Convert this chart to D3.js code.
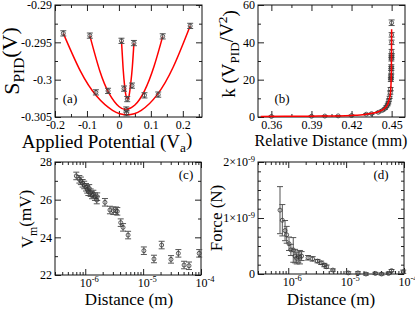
<!DOCTYPE html>
<html>
<head>
<meta charset="utf-8">
<script src="https://cdn.jsdelivr.net/npm/d3@7"></script>
<style>
body { margin: 0; background: #fff; }
svg { display: block; font-family: "Liberation Serif", "Times New Roman", serif; }
</style>
</head>
<body>
<svg id="fig" width="415" height="310"></svg>
<script>
// ---- panel (a): S_PID vs applied potential, three parabolas
var aOuterX = [-0.174, -0.072, 0.024, 0.123, 0.223];
var aOuterY = [-0.2938, -0.3017, -0.3045, -0.3020, -0.2928];
var aMidX = [-0.091, -0.034, 0.023, 0.080, 0.137];
var aMidY = [-0.2941, -0.3015, -0.3040, -0.3021, -0.2942];
var aNarrowX = [0.008, 0.016, 0.026, 0.041, 0.047];
var aNarrowY = [-0.2948, -0.3012, -0.3026, -0.3008, -0.2951];
var aErr = [0.00035, 0.00035, 0.00035, 0.00035, 0.00035];
// fitted curves
var aFitOuterX = [-0.174, -0.12, -0.07, -0.02, 0.025, 0.07, 0.12, 0.17, 0.223];
var aFitOuterY = [-0.2938, -0.2989, -0.3022, -0.3041, -0.3047, -0.3041, -0.3020, -0.2983, -0.2928];
var aFitMidX = [-0.091, -0.06, -0.03, 0.0, 0.023, 0.05, 0.08, 0.11, 0.137];
var aFitMidY = [-0.2941, -0.2988, -0.3019, -0.3036, -0.3040, -0.3034, -0.3015, -0.2982, -0.2942];
var aFitNarrowX = [0.008, 0.013, 0.018, 0.022, 0.027, 0.032, 0.037, 0.042, 0.047];
var aFitNarrowY = [-0.2948, -0.2984, -0.3009, -0.3021, -0.3026, -0.3021, -0.3005, -0.2983, -0.2951];

// ---- panel (b): k vs relative distance
var bX = [0.36, 0.39, 0.40, 0.41, 0.42, 0.431, 0.435, 0.44, 0.443, 0.445, 0.446, 0.447, 0.4475, 0.448, 0.4485,
          0.449, 0.4492, 0.4494, 0.4495, 0.4496, 0.4497, 0.4497, 0.4498, 0.4498, 0.4499, 0.4499, 0.45, 0.45, 0.45, 0.45];
var bY = [0.3, 0.4, 0.5, 0.6, 0.8, 1.5, 1.8, 2.5, 3.5, 4.5, 5.5, 6.5, 7.5, 9, 10.5,
          13, 15, 20, 21, 22, 24, 26, 27, 31, 32, 33, 35, 40, 44, 50.5];
var bErr = [0.2, 0.2, 0.2, 0.2, 0.2, 0.3, 0.3, 0.3, 0.4, 0.4, 0.5, 0.5, 0.5, 0.6, 0.6,
            0.8, 0.8, 1, 1, 1, 1, 1, 1, 1, 1, 1, 1.2, 1.2, 1.2, 1.5];
var bFitX = [0.352, 0.37, 0.39, 0.41, 0.42, 0.43, 0.44, 0.445, 0.447, 0.448, 0.449, 0.4495, 0.4498, 0.45];
var bFitY = [0.3, 0.35, 0.45, 0.6, 0.85, 1.4, 2.8, 4.8, 6.8, 9, 12, 17, 25, 47];

// ---- panel (c): V_m vs distance
var cX = [7.0e-7, 7.9e-7, 8.4e-7, 9.0e-7, 9.6e-7, 1.03e-6, 1.08e-6, 1.13e-6, 1.17e-6, 1.24e-6, 1.31e-6, 1.38e-6,
          1.47e-6, 1.58e-6, 1.61e-6, 2.19e-6, 2.67e-6, 3.05e-6, 3.40e-6, 3.58e-6, 4.1e-6, 4.5e-6, 5.5e-6,
          1.03e-5, 1.54e-5, 2.09e-5, 3.03e-5, 4.06e-5, 5.1e-5, 6.2e-5, 9.3e-5];
var cY = [27.26, 27.08, 27.0, 26.87, 26.78, 26.66, 26.55, 26.42, 26.6, 26.37, 26.25, 26.3,
          26.16, 25.98, 26.16, 25.86, 25.45, 25.41, 25.41, 25.38, 24.78, 24.53, 24.12,
          23.29, 22.85, 23.59, 22.83, 23.15, 22.53, 22.49, 23.15];
var cErr = [0.2, 0.2, 0.2, 0.2, 0.2, 0.2, 0.2, 0.2, 0.2, 0.2, 0.2, 0.2,
            0.2, 0.2, 0.2, 0.2, 0.2, 0.2, 0.2, 0.2, 0.2, 0.2, 0.2,
            0.2, 0.2, 0.2, 0.2, 0.2, 0.2, 0.2, 0.2];

// ---- panel (d): force vs distance
var dX = [7.2e-7, 7.9e-7, 8.8e-7, 9.4e-7, 1.03e-6, 1.11e-6, 1.22e-6, 1.31e-6, 1.4e-6, 1.49e-6, 1.59e-6, 1.7e-6,
          2.2e-6, 2.64e-6, 3.2e-6, 3.7e-6, 4.2e-6, 4.6e-6, 5.9e-6,
          1.09e-5, 1.6e-5, 2.2e-5, 3.2e-5, 4.1e-5, 5.4e-5, 6.1e-5, 9.7e-5];
var dY = [1.14e-9, 0.96e-9, 0.775e-9, 0.70e-9, 0.54e-9, 0.43e-9, 0.43e-9, 0.32e-9, 0.28e-9, 0.31e-9, 0.30e-9, 0.32e-9,
          0.29e-9, 0.27e-9, 0.23e-9, 0.20e-9, 0.16e-9, 0.13e-9, 0.07e-9,
          0.02e-9, 0.02e-9, 0.0, 0.01e-9, 0.0, 0.01e-9, 0.06e-9, 0.04e-9];
var dErr = [0.42e-9, 0.28e-9, 0.18e-9, 0.15e-9, 0.12e-9, 0.1e-9, 0.22e-9, 0.12e-9, 0.1e-9, 0.1e-9, 0.12e-9, 0.08e-9,
            0.04e-9, 0.04e-9, 0.03e-9, 0.03e-9, 0.03e-9, 0.03e-9, 0.02e-9,
            0.02e-9, 0.02e-9, 0.02e-9, 0.02e-9, 0.02e-9, 0.02e-9, 0.02e-9, 0.03e-9];

// ---- tick values
var aXMajor = [-0.2, -0.1, 0, 0.1, 0.2], aXMinor = [-0.15, -0.05, 0.05, 0.15, 0.25];
var aYMajor = [-0.305, -0.3, -0.295, -0.29], aYMinor = [-0.3025, -0.2975, -0.2925];
var bXMajor = [0.36, 0.39, 0.42, 0.45], bXMinor = [0.375, 0.405, 0.435];
var bYMajor = [0, 20, 40, 60], bYMinor = [10, 30, 50];
var logMajor = [1e-6, 1e-5, 1e-4];
var logMinor = [3e-7, 4e-7, 5e-7, 6e-7, 7e-7, 8e-7, 9e-7,
                2e-6, 3e-6, 4e-6, 5e-6, 6e-6, 7e-6, 8e-6, 9e-6,
                2e-5, 3e-5, 4e-5, 5e-5, 6e-5, 7e-5, 8e-5, 9e-5];
var logLabels = ["10^-6", "10^-5", "10^-4"];
var cYMajor = [22, 24, 26, 28], cYMinor = [23, 25, 27];
var dYMajor = [0, 1e-9, 2e-9], dYLabels = ["0", "1\u00d710^-9", "2\u00d710^-9"];
var dYMinor = [0.1667e-9, 0.3333e-9, 0.5e-9, 0.6667e-9, 0.8333e-9, 1.1667e-9, 1.3333e-9, 1.5e-9, 1.6667e-9, 1.8333e-9];

var SERIF = "Liberation Serif, Times New Roman, serif";
var svg = d3.select("#fig");

function supLabel(sel, anchor) {
  sel.each(function() {
    var t = d3.select(this), s = t.text();
    if (s.indexOf("^") < 0) return;
    var parts = s.split("^");
    t.text(parts[0]);
    t.append("tspan").attr("dy", "-0.5em").attr("font-size", "8.5px").text(parts[1]);
    if (anchor === "start") t.attr("text-anchor", "start").attr("x", -6);
  });
}

function axisG(g, axis, tx, ty) {
  var s = g.append("g").attr("transform", "translate(" + tx + "," + ty + ")").call(axis);
  s.select(".domain").remove();
  s.attr("font-family", SERIF).attr("font-size", 12);
  s.selectAll("line").attr("stroke", "#222");
  s.selectAll("text").attr("fill", "#000");
  return s;
}

function panel(o) {
  var g = svg.append("g");
  var x = o.x.range([o.left, o.right]);
  var y = o.y.range([o.bottom, o.top]);
  var bx = axisG(g, d3.axisBottom(x).tickValues(o.xMajor).tickSize(-6).tickPadding(3)
    .tickFormat(function(d, i) { return o.xLabels ? o.xLabels[i] : String(d); }), 0, o.bottom);
  if (o.xLabels) supLabel(bx.selectAll(".tick text"), "start");
  axisG(g, d3.axisBottom(x).tickValues(o.xMinor).tickSize(-3).tickFormat(""), 0, o.bottom);
  axisG(g, d3.axisTop(x).tickValues(o.xMajor).tickSize(-6).tickFormat(""), 0, o.top);
  axisG(g, d3.axisTop(x).tickValues(o.xMinor).tickSize(-3).tickFormat(""), 0, o.top);
  var ly = axisG(g, d3.axisLeft(y).tickValues(o.yMajor).tickSize(-6).tickPadding(3)
    .tickFormat(function(d, i) { return o.yLabels ? o.yLabels[i] : String(d); }), o.left, 0);
  if (o.yLabels) supLabel(ly.selectAll(".tick text"), "end");
  axisG(g, d3.axisLeft(y).tickValues(o.yMinor).tickSize(-3).tickFormat(""), o.left, 0);
  axisG(g, d3.axisRight(y).tickValues(o.yMajor).tickSize(-6).tickFormat(""), o.right, 0);
  axisG(g, d3.axisRight(y).tickValues(o.yMinor).tickSize(-3).tickFormat(""), o.right, 0);
  g.append("rect")
    .attr("x", o.left).attr("y", o.top)
    .attr("width", o.right - o.left).attr("height", o.bottom - o.top)
    .attr("fill", "none").attr("stroke", "#111").attr("stroke-width", 1);
  return { g: g, x: x, y: y };
}

function points(p, xs, ys, errs) {
  var data = xs.map(function(v, i) { return { x: v, y: ys[i], e: errs[i] }; });
  var eg = p.g.append("g").attr("stroke", "#555").attr("stroke-width", 1).attr("fill", "none");
  eg.selectAll(".eb").data(data).enter().append("path")
    .attr("d", function(d) {
      var px = p.x(d.x), y0 = p.y(d.y - d.e), y1 = p.y(d.y + d.e);
      return "M" + px + "," + y0 + "V" + y1 + "M" + (px - 3) + "," + y0 + "H" + (px + 3) +
             "M" + (px - 3) + "," + y1 + "H" + (px + 3);
    });
  p.g.append("g").selectAll("circle").data(data).enter().append("circle")
    .attr("cx", function(d) { return p.x(d.x); })
    .attr("cy", function(d) { return p.y(d.y); })
    .attr("r", 2)
    .attr("fill", "none").attr("stroke", "#333").attr("stroke-width", 0.8);
}

function fitLine(p, xs, ys, curve) {
  var line = d3.line().x(function(d) { return p.x(d[0]); }).y(function(d) { return p.y(d[1]); }).curve(curve);
  p.g.append("path").datum(xs.map(function(v, i) { return [v, ys[i]]; }))
    .attr("d", line).attr("fill", "none").attr("stroke", "#f00").attr("stroke-width", 1.5);
}

function label(x, y, size, rotate) {
  var t = svg.append("text").attr("font-family", SERIF).attr("font-size", size + "px").attr("text-anchor", "middle");
  if (rotate) t.attr("transform", "translate(" + x + "," + y + ") rotate(-90)");
  else t.attr("x", x).attr("y", y);
  return t;
}
function rich(t, parts) {
  // parts: [text, shift] with shift 0 normal, 1 sub, -1 sup
  var prev = 0;
  parts.forEach(function(pt) {
    var shift = pt[1];
    var dy = (shift === 1 ? 0.3 : shift === -1 ? -0.45 : 0) - (prev === 1 ? 0.3 : prev === -1 ? -0.45 : 0);
    var ts = t.append("tspan").text(pt[0]).attr("dy", dy + "em");
    if (shift !== 0) ts.attr("font-size", "70%");
    prev = shift;
  });
}

// (a)
var pa = panel({ x: d3.scaleLinear().domain([-0.2, 0.26]), y: d3.scaleLinear().domain([-0.305, -0.29]),
  left: 55, right: 202, top: 5, bottom: 117,
  xMajor: aXMajor, xMinor: aXMinor, yMajor: aYMajor, yMinor: aYMinor });
fitLine(pa, aFitOuterX, aFitOuterY, d3.curveNatural);
fitLine(pa, aFitMidX, aFitMidY, d3.curveNatural);
fitLine(pa, aFitNarrowX, aFitNarrowY, d3.curveNatural);
points(pa, aOuterX, aOuterY, aErr);
points(pa, aMidX, aMidY, aErr);
points(pa, aNarrowX, aNarrowY, aErr);

// (b)
var pb = panel({ x: d3.scaleLinear().domain([0.35, 0.46]), y: d3.scaleLinear().domain([0, 60]),
  left: 258, right: 405, top: 5, bottom: 117,
  xMajor: bXMajor, xMinor: bXMinor, yMajor: bYMajor, yMinor: bYMinor });
points(pb, bX, bY, bErr);
fitLine(pb, bFitX, bFitY, d3.curveMonotoneX);

// (c)
var pc = panel({ x: d3.scaleLog().domain([3e-7, 1e-4]), y: d3.scaleLinear().domain([22, 28]),
  left: 55, right: 201, top: 162, bottom: 275,
  xMajor: logMajor, xMinor: logMinor, xLabels: logLabels, yMajor: cYMajor, yMinor: cYMinor });
points(pc, cX, cY, cErr);

// (d)
var pd = panel({ x: d3.scaleLog().domain([3e-7, 1e-4]), y: d3.scaleLinear().domain([0, 2e-9]),
  left: 258, right: 404, top: 162, bottom: 274,
  xMajor: logMajor, xMinor: logMinor, xLabels: logLabels, yMajor: dYMajor, yMinor: dYMinor, yLabels: dYLabels });
points(pd, dX, dY, dErr);

// axis titles
rich(label(107, 148, 19), [["Applied Potential (V", 0], ["a", 1], [")", 0]]);
rich(label(19, 61, 22, true), [["S", 0], ["PID", 1], ["(V)", 0]]);
label(331, 146, 16).text("Relative Distance (mm)");
rich(label(235, 54, 19, true), [["k (V", 0], ["PID", 1], ["/V", 0], ["2", -1], [")", 0]]);
label(129, 305, 17).text("Distance (m)");
rich(label(33, 219, 17, true), [["V", 0], ["m", 1], ["(mV)", 0]]);
label(331, 305, 17).text("Distance (m)");
label(222, 218, 17, true).text("Force (N)");

// panel tags
label(70, 103, 13).text("(a)");
label(282, 103, 13).text("(b)");
label(186, 179, 13).text("(c)");
label(381, 179, 13).text("(d)");
</script>
</body>
</html>
